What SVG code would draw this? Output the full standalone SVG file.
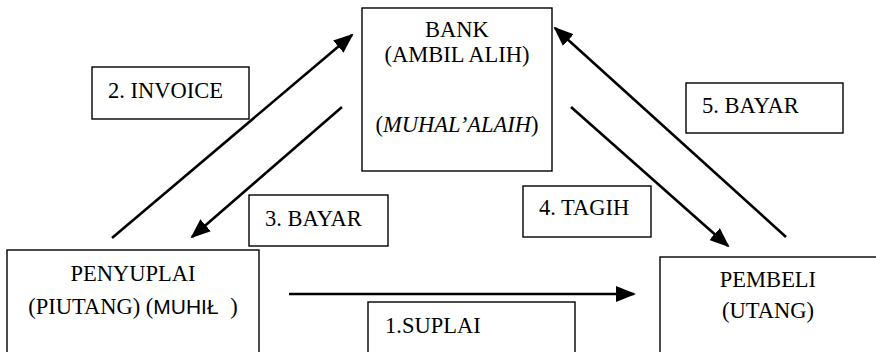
<svg xmlns="http://www.w3.org/2000/svg" width="876" height="352" viewBox="0 0 876 352">
<style>
.box{fill:#fff;stroke:#000;stroke-width:1.4}
.c{text-anchor:middle}
.conn line{stroke:#000;stroke-width:2.6;marker-end:url(#ah)}
</style>
<defs>
<marker id="ah" markerUnits="userSpaceOnUse" markerWidth="20" markerHeight="16" viewBox="0 0 20 16" refX="18" refY="8" orient="auto">
<path d="M0,0 L20,8 L0,16 Z" fill="#000"/>
</marker>
</defs>
<rect width="876" height="352" fill="#fff"/>
<g font-family="Liberation Serif, Times New Roman, serif" font-size="22.5" fill="#000">
<g id="bank">
<rect class="box" x="362" y="8" width="190" height="163"/>
<text class="c" x="457" y="37">BANK</text>
<text class="c" x="457" y="62">(AMBIL ALIH)</text>
<text class="c" x="457" y="132">(<tspan font-style="italic">MUHAL’ALAIH</tspan>)</text>
</g>
<g id="penyuplai">
<rect class="box" x="7" y="250" width="252" height="120"/>
<text class="c" x="133" y="281">PENYUPLAI</text>
<text class="c" x="133" y="314">(PIUTANG) (<tspan font-family="Liberation Sans, Arial, sans-serif" font-size="21">MUHIŁ</tspan><tspan dx="6"> )</tspan></text>
</g>
<g id="pembeli">
<rect class="box" x="660" y="257" width="240" height="120"/>
<text class="c" x="768" y="287">PEMBELI</text>
<text class="c" x="768" y="318">(UTANG)</text>
</g>
<g id="lbl-suplai">
<rect class="box" x="368" y="302" width="207" height="70"/>
<text x="385" y="333">1.SUPLAI</text>
</g>
<g id="lbl-invoice">
<rect class="box" x="92" y="67" width="157" height="52"/>
<text x="108" y="98">2. INVOICE</text>
</g>
<g id="lbl-bayar3">
<rect class="box" x="249" y="195" width="139" height="51"/>
<text x="265" y="226">3. BAYAR</text>
</g>
<g id="lbl-tagih">
<rect class="box" x="523" y="186" width="128" height="51"/>
<text x="539" y="215">4. TAGIH</text>
</g>
<g id="lbl-bayar5">
<rect class="box" x="686" y="83" width="157" height="50"/>
<text x="702" y="113">5. BAYAR</text>
</g>
</g>
<g id="connectors" class="conn">
<line x1="289" y1="294" x2="634" y2="294"/>
<line x1="112" y1="238" x2="352" y2="35"/>
<line x1="342" y1="107" x2="192" y2="237"/>
<line x1="571" y1="107" x2="728" y2="246"/>
<line x1="786" y1="237" x2="555" y2="28"/>
</g>
</svg>
